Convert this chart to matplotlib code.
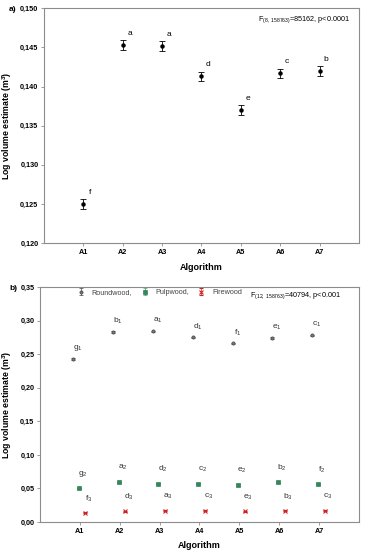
"""Two-panel chart: log volume estimate by algorithm (a) overall, (b) per assortment."""

import matplotlib
matplotlib.use("Agg")
import matplotlib.pyplot as plt
from matplotlib.ticker import FuncFormatter

plt.rcParams["font.family"] = ["Liberation Sans", "DejaVu Sans"]
plt.rcParams["mathtext.fontset"] = "custom"
plt.rcParams["mathtext.rm"] = "Liberation Sans"
plt.rcParams["mathtext.it"] = "Liberation Sans:italic"
plt.rcParams["mathtext.default"] = "regular"

algorithms = ["A1", "A2", "A3", "A4", "A5", "A6", "A7"]

# panel a
total_mean = [0.1250, 0.1453, 0.1452, 0.1413, 0.1370, 0.1417, 0.1420]
total_err = [0.0006, 0.0006, 0.0006, 0.0006, 0.0006, 0.0006, 0.0006]
total_letters = ["f", "a", "a", "d", "e", "c", "b"]

# panel b
round_mean = [0.243, 0.283, 0.284, 0.275, 0.266, 0.274, 0.278]
pulp_mean = [0.050, 0.059, 0.057, 0.057, 0.055, 0.059, 0.056]
fire_mean = [0.014, 0.016, 0.017, 0.017, 0.016, 0.017, 0.017]
assort_err = [0.001, 0.001, 0.001, 0.001, 0.001, 0.001, 0.001]
round_letters = ["g", "b", "a", "d", "f", "e", "c"]
pulp_letters = ["g", "a", "d", "c", "e", "b", "f"]
fire_letters = ["f", "d", "a", "c", "e", "b", "c"]

comma = FuncFormatter(lambda v, _: f"{v:.3f}".replace(".", ","))
comma2 = FuncFormatter(lambda v, _: f"{v:.2f}".replace(".", ","))
edge = "#8c8c8c"
fs_tick = 5.2

fig = plt.figure(figsize=(3.67, 5.5), dpi=100)
axa = fig.add_axes([0.120, 0.558, 0.858, 0.427])
axb = fig.add_axes([0.109, 0.051, 0.869, 0.427])

x = list(range(1, 8))


def style(ax, ylab_x):
    for s in ax.spines.values():
        s.set_color(edge)
        s.set_linewidth(0.8)
    ax.tick_params(axis="both", direction="out", length=2, width=0.6, color=edge,
                   labelsize=fs_tick, pad=2)
    for lab in ax.get_xticklabels() + ax.get_yticklabels():
        lab.set_fontweight("bold")
    ax.set_xlim(0, 8)
    ax.set_xticks(x)
    ax.set_xticklabels(algorithms, fontsize=fs_tick, fontweight="bold")
    ax.set_xlabel("Algorithm", fontsize=6.5, fontweight="bold", labelpad=5)
    ax.set_ylabel("Log volume estimate (m$^3$)", fontsize=6.3, fontweight="bold")
    ax.yaxis.set_label_coords(ylab_x, 0.5)


# ---- panel a
axa.errorbar(x, total_mean, yerr=total_err, fmt="o", ms=2.2, color="black",
             ecolor="black", elinewidth=0.6, capsize=2, capthick=0.6)
for xi, yi, lab in zip(x, total_mean, total_letters):
    axa.text(xi + 0.17, yi + 0.0015, lab, fontsize=6, ha="center", va="center")
axa.set_ylim(0.120, 0.150)
axa.set_yticks([0.120, 0.125, 0.130, 0.135, 0.140, 0.145, 0.150])
axa.yaxis.set_major_formatter(comma)
style(axa, -0.094)
axa.text(0.68, 0.95, "F$_{(8,\\ 158763)}$=85162, p<0.0001", transform=axa.transAxes,
         fontsize=5.2, ha="left", va="center")
fig.text(0.025, 0.982, "a)", fontsize=6, fontweight="bold", ha="left", va="center")

# ---- panel b
xr = [v - 0.17 for v in x]
xp = [v - 0.03 for v in x]
xf = [v + 0.14 for v in x]
h1 = axb.errorbar(xr, round_mean, yerr=assort_err, fmt="o", ms=2.3, mfc="#777777",
                  mec="#444444", mew=0.5, ecolor="#444444", elinewidth=0.5,
                  capsize=1.5, capthick=0.5, label="Roundwood,")
h2 = axb.errorbar(xp, pulp_mean, yerr=assort_err, fmt="s", ms=2.2, mfc="#2e8b57",
                  mec="#1f6b43", mew=0.4, ecolor="#2e8b57", elinewidth=0.5,
                  capsize=1.5, capthick=0.5, label="Pulpwood,")
h3 = axb.errorbar(xf, fire_mean, yerr=assort_err, fmt="x", ms=2.2, mec="#cc2222",
                  mew=0.8, ecolor="#cc2222", elinewidth=0.5,
                  capsize=1.5, capthick=0.5, label="Firewood")
for xi, yi, lab in zip(xr, round_mean, round_letters):
    axb.text(xi + 0.12, yi + 0.016, lab + "$_1$", fontsize=6, ha="center", va="center",
             color="#333333")
for xi, yi, lab in zip(xp, pulp_mean, pulp_letters):
    axb.text(xi + 0.1, yi + 0.022, lab + "$_2$", fontsize=6, ha="center", va="center",
             color="#333333")
for xi, yi, lab in zip(xf, fire_mean, fire_letters):
    axb.text(xi + 0.08, yi + 0.021, lab + "$_3$", fontsize=6, ha="center", va="center",
             color="#333333")
axb.set_ylim(0, 0.35)
axb.set_yticks([0.0, 0.05, 0.10, 0.15, 0.20, 0.25, 0.30, 0.35])
axb.yaxis.set_major_formatter(comma2)
style(axb, -0.081)
leg = axb.legend(handles=[h1, h2, h3], loc="upper left", bbox_to_anchor=(0.09, 1.01),
                 ncol=3, frameon=False, fontsize=5.2, handlelength=2.2,
                 columnspacing=0.6, handletextpad=0.4, borderaxespad=0.2)
for t in leg.get_texts():
    t.set_color("#444444")
axb.text(0.66, 0.963, "F$_{(12,\\ 158763)}$=40794, p<0.001", transform=axb.transAxes,
         fontsize=5.2, ha="left", va="center")
fig.text(0.025, 0.475, "b)", fontsize=6, fontweight="bold", ha="left", va="center")

fig.savefig("out.png", dpi=100)
